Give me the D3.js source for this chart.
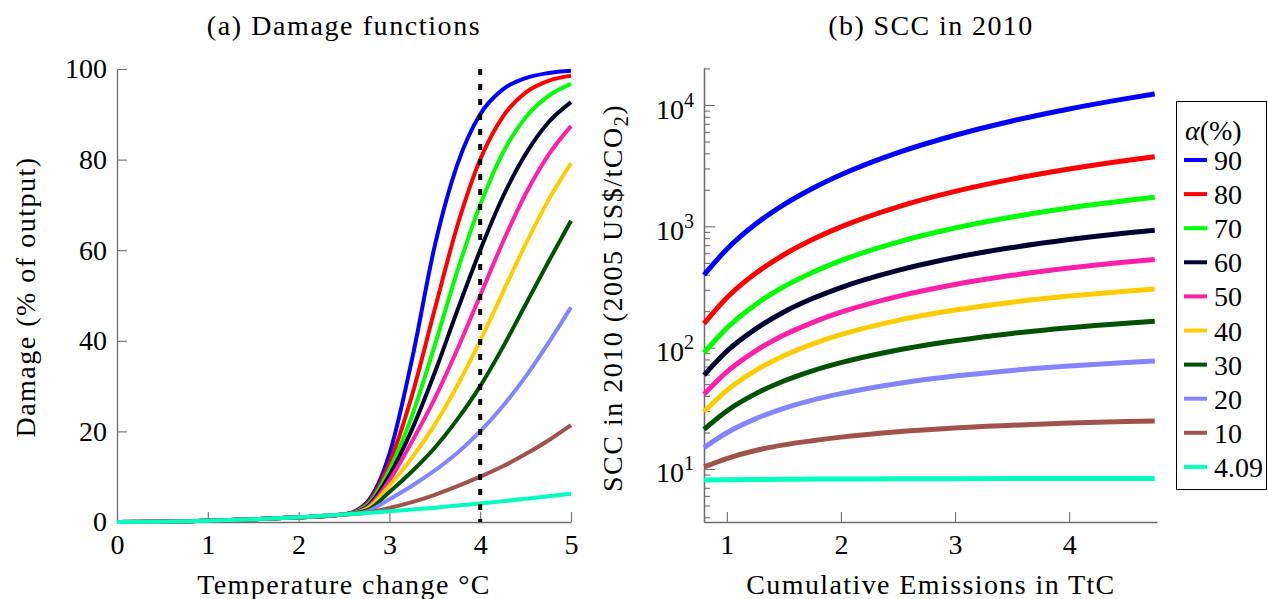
<!DOCTYPE html>
<html><head><meta charset="utf-8">
<script src="https://cdn.jsdelivr.net/npm/d3@7"></script>
<style>
svg text, svg tspan { font-family: "Liberation Serif", "Tinos", "Times New Roman" !important; }
</style>
</head><body style="margin:0">
<svg id="c" width="1268" height="599" font-family="Liberation Serif, Tinos, Times New Roman"></svg>
<script>
// ---------- data ----------
const alphaLabels = ["90","80","70","60","50","40","30","20","10","4.09"];
const seriesColors = ["#0000ff","#ff0000","#00ff00","#000030","#ff1fa8","#ffcc00","#005200","#8585ff","#a0534b","#00ffc0"];

// (a) damage functions
const temperature = [0,0.5,1,1.5,2,2.5,2.75,3,3.25,3.5,3.75,4,4.25,4.5,4.75,5];
const damage90  = [0,0.067,0.266,0.597,1.057,1.64,4.3,15,36,61,79,90,95.5,98,99.1,99.6];
const damage80  = [0,0.067,0.266,0.597,1.057,1.64,3.9,13,28,47,65.5,80,89.5,94.8,97.4,98.5];
const damage70  = [0,0.067,0.266,0.597,1.057,1.64,3.6,11.5,23.5,39,55.5,70,81.5,89.3,94,96.7];
const damage60  = [0,0.067,0.266,0.597,1.057,1.64,3.3,10.3,20.5,33,46.8,60,71.8,81.2,88.2,92.7];
const damage50  = [0,0.067,0.266,0.597,1.057,1.64,3.1,9.2,17.8,27.3,38.2,50,61.8,72.4,81,87.4];
const damage40  = [0,0.067,0.266,0.597,1.057,1.64,2.85,8,14.2,21.5,30.2,40,50.7,61.3,71,79.2];
const damage30  = [0,0.067,0.266,0.597,1.057,1.64,2.55,6.6,11.2,16.4,22.7,30,38.6,48,57.4,66.5];
const damage20  = [0,0.067,0.266,0.597,1.057,1.64,2.3,5.0,8.0,11.4,15.3,20,25.6,32.1,39.5,47.4];
const damage10  = [0,0.067,0.266,0.597,1.057,1.64,2.05,3.1,4.4,6.0,7.9,10,12.3,15,18,21.4];
const damage409 = [0,0.067,0.266,0.597,1.057,1.64,1.98,2.35,2.74,3.17,3.62,4.09,4.60,5.13,5.68,6.26];
const tempTicks = [0,1,2,3,4,5];
const damageTicks = [0,20,40,60,80,100];
const thresholdT = 4;

// (b) SCC in 2010
const emissions = [0.8,1,1.25,1.5,1.75,2,2.5,3,3.5,4,4.5,4.75];
const scc90  = [397,648,1039,1510,2052,2660,4050,5636,7390,9280,11290,12330];
const scc80  = [158,258,408,583,778,990,1448,1940,2449,2968,3490,3750];
const scc70  = [90.8,145,226,318,417,522,742,968,1193,1415,1630,1734];
const scc60  = [59.4,93.4,142,197,254,313,433,553,668,778,882,930];
const scc50  = [41.2,63.1,93.8,127,161,196,265,332,395,454,509,534];
const scc40  = [29.6,44.5,64.7,85.7,107,128,168,204,237,266,292,304];
const scc30  = [21.2,30.1,41.6,53.1,64.4,75.2,95.7,114,131,146,159,165];
const scc20  = [15.0,19.9,25.9,31.6,36.9,41.8,50.7,58.3,64.9,70.6,75.5,77.6];
const scc10  = [10.4,12.2,14.2,15.8,17.1,18.3,20.3,21.8,22.9,23.9,24.6,24.9];
const scc409 = [8.1,8.15,8.2,8.22,8.25,8.27,8.3,8.32,8.33,8.35,8.36,8.36];
const emissionTicks = [1,2,3,4];
const sccMajorTicks = [10,100,1000,10000];

const damageSeries = [damage90,damage80,damage70,damage60,damage50,damage40,damage30,damage20,damage10,damage409];
const sccSeries = [scc90,scc80,scc70,scc60,scc50,scc40,scc30,scc20,scc10,scc409];

// ---------- drawing ----------
const svg = d3.select("#c");
svg.append("rect").attr("width",1268).attr("height",599).attr("fill","#fff");
const FONT = '"Liberation Serif"';
const FS = 28;
const FSsmall = 20;
const AX = "#6e6e6e";

function addText(parent, str){
  return parent.append("text").attr("font-size", FS).attr("font-family","Liberation Serif").style("font-family", FONT).text(str);
}
function styleAxis(g){
  g.attr("font-family", "Liberation Serif").attr("font-size", null).attr("fill", null);
  g.select(".domain").attr("stroke", AX).attr("stroke-width", 1.3);
  g.selectAll(".tick line").attr("stroke", AX).attr("stroke-width", 1.1);
  g.selectAll(".tick text").attr("font-size", FS).attr("font-family","Liberation Serif").style("font-family", FONT).attr("fill", null);
}

// ----- panel (a)
const xL = d3.scaleLinear().domain([0,5]).range([117,571]);
const yL = d3.scaleLinear().domain([0,100]).range([522,69]);

const gxL = svg.append("g").attr("transform",`translate(0,${yL(0)})`)
  .call(d3.axisBottom(xL).tickValues(tempTicks).tickFormat(d3.format("d")).tickSize(-10).tickSizeOuter(0).tickPadding(12));
styleAxis(gxL);
const gyL = svg.append("g").attr("transform",`translate(${xL(0)},0)`)
  .call(d3.axisLeft(yL).tickValues(damageTicks).tickSize(-10).tickSizeOuter(0).tickPadding(10));
styleAxis(gyL);

const lineL = d3.line().curve(d3.curveMonotoneX).x((d,i)=>xL(temperature[i])).y(d=>yL(d));
svg.append("g").selectAll("path").data(damageSeries).join("path")
  .attr("d", lineL).attr("fill","none")
  .attr("stroke",(d,i)=>seriesColors[i]).attr("stroke-width",4);

svg.append("line")
  .attr("x1",xL(thresholdT)).attr("x2",xL(thresholdT))
  .attr("y1",yL(100)).attr("y2",yL(0))
  .attr("stroke","#000").attr("stroke-width",4).attr("stroke-dasharray","6 9");

addText(svg, "(a) Damage functions").attr("x",(xL(0)+xL(5))/2).attr("y",35).attr("text-anchor","middle")
  .attr("letter-spacing",1.6);
addText(svg, "Temperature change °C").attr("x",(xL(0)+xL(5))/2).attr("y",594).attr("text-anchor","middle")
  .attr("letter-spacing",1.4);
addText(svg, "Damage (% of output)").attr("transform","translate(35,297) rotate(-90)").attr("text-anchor","middle")
  .attr("letter-spacing",1.5);

// ----- panel (b)
const xR = d3.scaleLinear().domain([0.8,4.77]).range([704,1157]);
const yR = d3.scaleLog().domain([Math.pow(10,0.563), Math.pow(10,4.305)]).range([522,68]);

const gxR = svg.append("g").attr("transform",`translate(0,522)`)
  .call(d3.axisBottom(xR).tickValues(emissionTicks).tickFormat(d3.format("d")).tickSize(-10).tickSizeOuter(0).tickPadding(12));
styleAxis(gxR);

const minorTicks = [];
for (let e = 0; e <= 4; e++) for (let m = 2; m <= 9; m++) {
  const v = m * Math.pow(10, e);
  if (v >= yR.domain()[0] && v <= yR.domain()[1]) minorTicks.push(v);
}
const gyRm = svg.append("g").attr("transform",`translate(704,0)`)
  .call(d3.axisLeft(yR).tickValues(minorTicks).tickFormat("").tickSize(-6).tickSizeOuter(0));
styleAxis(gyRm);
const gyR = svg.append("g").attr("transform",`translate(704,0)`)
  .call(d3.axisLeft(yR).tickValues(sccMajorTicks).tickSize(-11).tickSizeOuter(0).tickPadding(10));
styleAxis(gyR);
gyR.selectAll(".tick text").each(function(d){
  const t = d3.select(this);
  t.text(null).attr("dy", null).attr("y", 13);
  t.append("tspan").text("10");
  t.append("tspan").attr("font-size",FSsmall).attr("dy",-12).text(Math.round(Math.log10(d)));
});

const lineR = d3.line().curve(d3.curveMonotoneX).x((d,i)=>xR(emissions[i])).y(d=>yR(d));
svg.append("g").selectAll("path").data(sccSeries).join("path")
  .attr("d", lineR).attr("fill","none")
  .attr("stroke",(d,i)=>seriesColors[i]).attr("stroke-width",5);

addText(svg, "(b) SCC in 2010").attr("x",931).attr("y",35).attr("text-anchor","middle")
  .attr("letter-spacing",1.4);
addText(svg, "Cumulative Emissions in TtC").attr("x",931).attr("y",594).attr("text-anchor","middle")
  .attr("letter-spacing",1.4);
const ylB = addText(svg, null).attr("transform","translate(622,298) rotate(-90)").attr("text-anchor","middle")
  .attr("letter-spacing",1.5);
ylB.append("tspan").text("SCC in 2010 (2005 US$/tCO");
ylB.append("tspan").attr("font-size",FSsmall).attr("dy",6).text("2");
ylB.append("tspan").attr("dy",-6).text(")");

// legend
const leg = svg.append("g");
leg.append("rect").attr("x",1176.5).attr("y",101.5).attr("width",90).attr("height",388)
  .attr("fill","#fff").attr("stroke","#000").attr("stroke-width",1);
const lt = addText(leg, null).attr("x",1185).attr("y",140);
lt.append("tspan").attr("font-style","italic").text("α");
lt.append("tspan").text("(%)");
alphaLabels.forEach((lab,i)=>{
  const cy = 160 + i*34.1;
  leg.append("line").attr("x1",1184).attr("x2",1207).attr("y1",cy).attr("y2",cy)
    .attr("stroke",seriesColors[i]).attr("stroke-width",4);
  addText(leg, lab).attr("x",1214).attr("y",cy+10);
});
</script>
</body></html>
